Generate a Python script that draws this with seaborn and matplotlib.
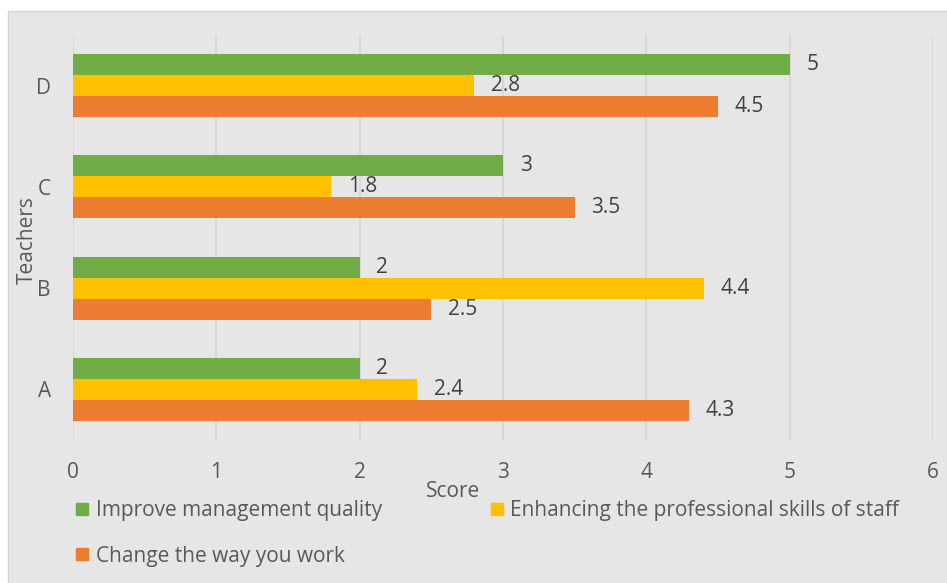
import pandas as pd
import matplotlib.pyplot as plt
import seaborn as sns
from matplotlib.patches import Rectangle
from matplotlib.lines import Line2D

teachers = ['D', 'C', 'B', 'A']
series = ['Improve management quality',
          'Enhancing the professional skills of staff',
          'Change the way you work']
management = [5, 3, 2, 2]
skills = [2.8, 1.8, 4.4, 2.4]
work_way = [4.5, 3.5, 2.5, 4.3]
colors = ['#70AD47', '#FFC000', '#ED7D31']
x_ticks = [0, 1, 2, 3, 4, 5, 6]

df = pd.DataFrame({
    'Teachers': teachers * 3,
    'Series': [series[0]] * 4 + [series[1]] * 4 + [series[2]] * 4,
    'Score': management + skills + work_way,
})

sns.set_style('white')
plt.rcParams['font.family'] = ['Open Sans', 'DejaVu Sans']
text_color = '#595959'
fs = 15
W, H = 947, 583

fig = plt.figure(figsize=(W / 100, H / 100), dpi=100)
fig.patch.set_facecolor('white')
fig.add_artist(Rectangle((8 / W, -0.01), 1.0, 1 - 11 / H + 0.01, transform=fig.transFigure,
                         facecolor='#E6E6E6', edgecolor='#D2D2D2', lw=1, zorder=0))

ax = fig.add_axes([73 / W, 1 - 440 / H, 860 / W, 405 / H])
ax.set_facecolor('none')

sns.barplot(data=df, x='Score', y='Teachers', hue='Series', order=teachers,
            hue_order=series, palette=colors, orient='h', width=0.62,
            saturation=1, edgecolor='none', ax=ax, legend=False)

for c in ax.containers:
    ax.bar_label(c, fmt='%g', padding=12, fontsize=fs, color='#404040')

ax.set_xlim(0, 6)
ax.set_ylim(3.5, -0.5)
ax.set_xticks(x_ticks)
ax.grid(axis='x', color='#D5D5D5', lw=1.2)
ax.set_axisbelow(True)
for s in ax.spines.values():
    s.set_visible(False)
ax.tick_params(axis='x', length=0, pad=16, labelsize=fs, labelcolor=text_color)
ax.tick_params(axis='y', length=0, pad=16, labelsize=fs, labelcolor=text_color)

ax.set_xlabel('Score', fontsize=fs, color=text_color)
ax.xaxis.set_label_coords((453 - 73) / 860, -(481 - 440) / 405)
ax.set_ylabel('Teachers', fontsize=fs, color=text_color)
ax.yaxis.set_label_coords((38 - 73) / 860, 0.494)

order = [0, 2, 1]
handles = [Line2D([], [], marker='s', ls='', color=colors[i], markersize=8.6) for i in order]
labels = [series[i] for i in order]
fig.legend(handles, labels, ncol=2, loc='upper left', bbox_to_anchor=(76 / W, 1 - 500 / H),
           frameon=False, fontsize=fs, labelcolor=text_color, handlelength=0.6,
           handletextpad=0.35, labelspacing=1.18, columnspacing=5.2, borderpad=0,
           borderaxespad=0)

fig.savefig('out.png', dpi=100)
